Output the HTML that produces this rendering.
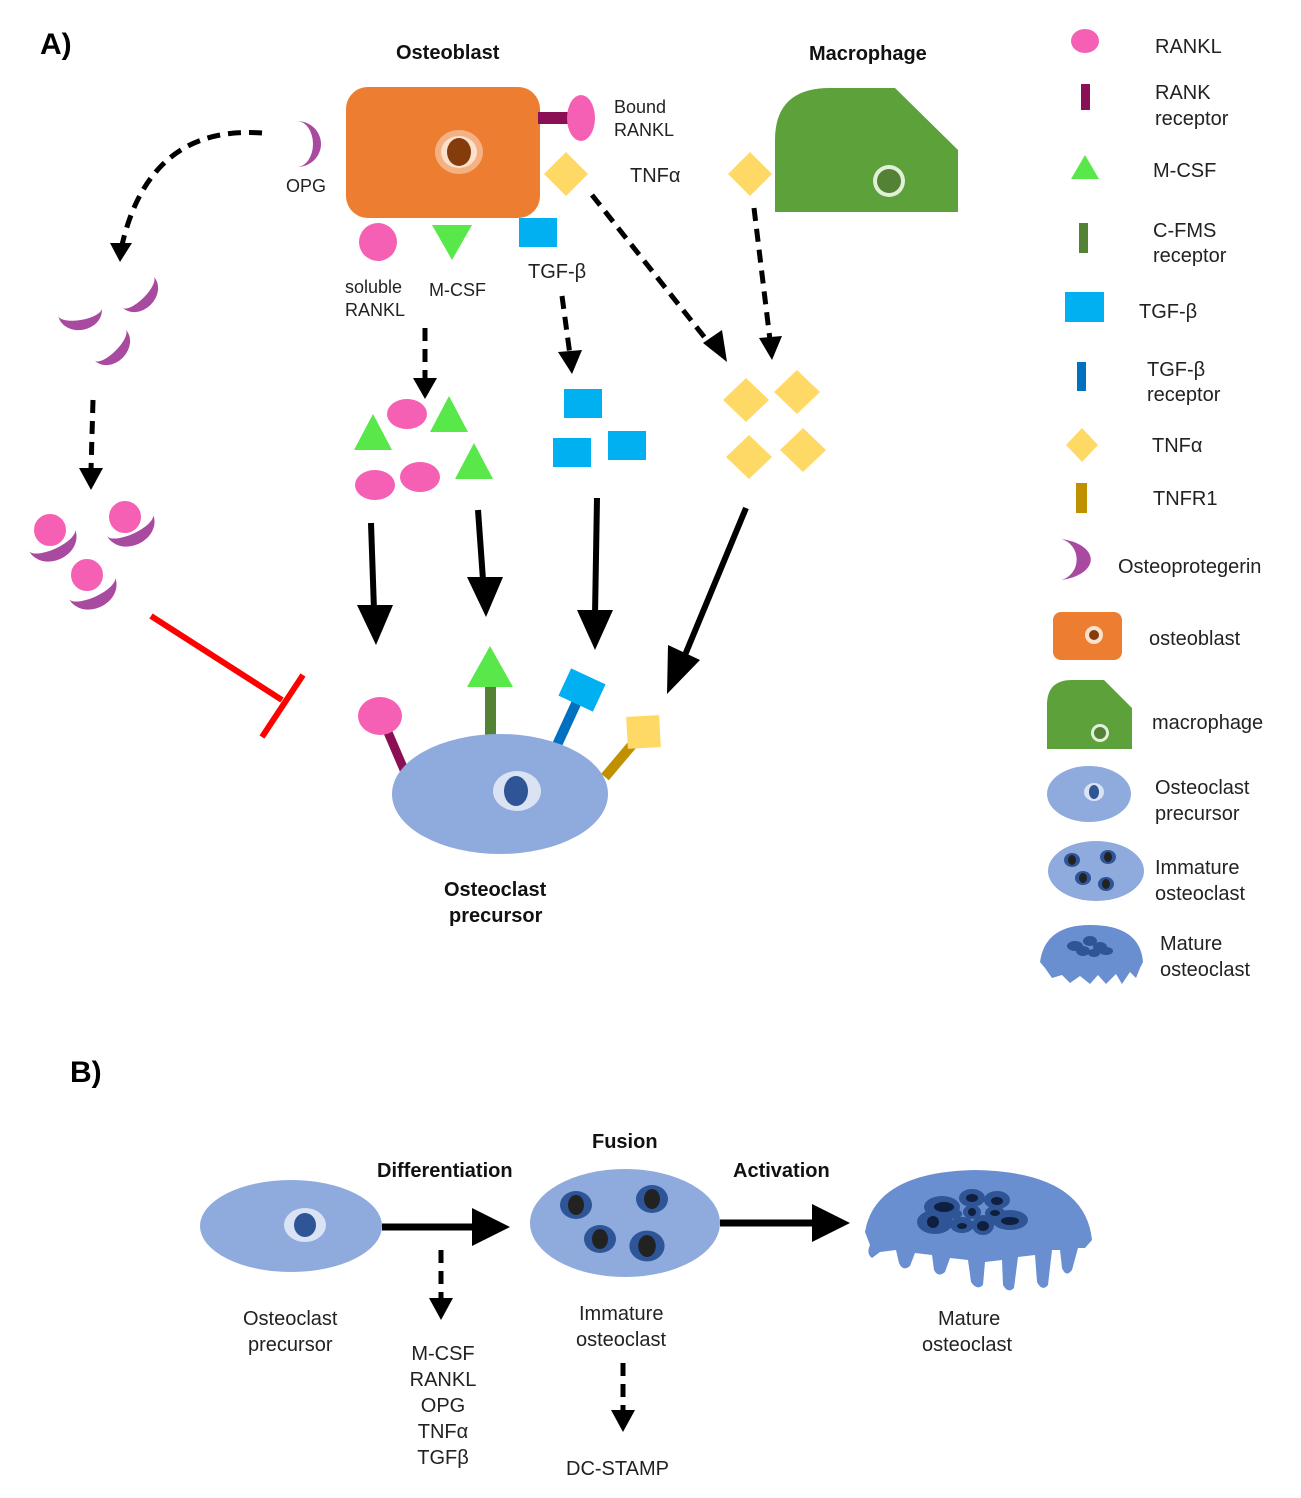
<!DOCTYPE html>
<html><head><meta charset="utf-8"><style>
html,body{margin:0;padding:0;background:#fff;}
svg{display:block;font-family:"Liberation Sans",sans-serif;}
.t{font-size:20px;fill:#222;}
.b{font-size:20px;font-weight:bold;fill:#111;}
.s{font-size:18px;fill:#222;}
</style></head><body>
<svg width="1301" height="1498" viewBox="0 0 1301 1498" xmlns="http://www.w3.org/2000/svg">
<defs>
<g id="mnuc"><ellipse cx="0" cy="0" rx="16" ry="14" fill="#2e5597"/><ellipse cx="0" cy="0" rx="8" ry="10" fill="#222"/></g>
<path id="bowl" d="M-22,0 A22,18 0 0 0 22,0 A22,8 0 0 1 -22,0Z" fill="#a84aa0"/>
</defs>

<text x="40" y="54" style="font-size:30px;font-weight:bold">A)</text>
<text x="70" y="1082" style="font-size:30px;font-weight:bold">B)</text>

<!-- Osteoblast -->
<text x="396" y="59" class="b">Osteoblast</text>
<rect x="346" y="87" width="194" height="131" rx="22" fill="#ed7d31"/>
<ellipse cx="459" cy="152" rx="24" ry="22" fill="#f4b183"/>
<ellipse cx="459" cy="152" rx="18" ry="16" fill="#fbe0cc"/>
<ellipse cx="459" cy="152" rx="12" ry="14" fill="#843c0c"/>
<rect x="538" y="112" width="30" height="12" fill="#8b0f55"/>
<ellipse cx="581" cy="118" rx="14" ry="23" fill="#f560b5"/>
<text x="614" y="113" class="s">Bound</text>
<text x="614" y="136" class="s">RANKL</text>
<path d="M566,152 L588,174 L566,196 L544,174Z" fill="#ffd966"/>
<text x="630" y="182" class="t">TNFα</text>
<path d="M297,121 A24,23 0 0 1 297,167 A16,23 0 0 0 297,121Z" fill="#a84aa0"/>
<text x="286" y="192" class="s">OPG</text>
<ellipse cx="378" cy="242" rx="19" ry="19" fill="#f560b5"/>
<path d="M432,225 L472,225 L452,260Z" fill="#58e84a"/>
<rect x="519" y="218" width="38" height="29" fill="#00b0f0"/>
<text x="345" y="293" class="s">soluble</text>
<text x="345" y="316" class="s">RANKL</text>
<text x="429" y="296" class="s">M-CSF</text>
<text x="528" y="278" class="t">TGF-β</text>

<!-- Macrophage -->
<text x="809" y="60" class="b">Macrophage</text>
<path d="M775,212 L775,140 Q775,88 830,88 L895,88 L958,150 L958,212Z" fill="#5ca13a"/>
<circle cx="889" cy="181" r="16" fill="#e2f0d9"/>
<circle cx="889" cy="181" r="12" fill="#548235"/>
<path d="M750,152 L772,174 L750,196 L728,174Z" fill="#ffd966"/>

<!-- dashed arrows -->
<g stroke="#000" stroke-width="5" fill="none" stroke-dasharray="13,8">
<path d="M262,133 Q150,125 122,245"/>
<path d="M93,400 L91,470"/>
<path d="M425,328 L425,380"/>
<path d="M562,296 L570,355"/>
<path d="M592,195 L713,348"/>
<path d="M754,208 L770,340"/>
<path d="M441,1250 L441,1300"/>
<path d="M623,1363 L623,1410"/>
</g>
<g fill="#000">
<path d="M110,243 L132,243 L120,262Z"/>
<path d="M79,468 L103,468 L91,490Z"/>
<path d="M413,378 L437,378 L425,399Z"/>
<path d="M558,352 L582,350 L572,374Z"/>
<path d="M703,343 L722,330 L727,362Z"/>
<path d="M759,338 L782,336 L772,360Z"/>
<path d="M429,1298 L453,1298 L441,1320Z"/>
<path d="M611,1410 L635,1410 L623,1432Z"/>
</g>

<!-- OPG crescents -->
<use href="#bowl" transform="translate(80,312) rotate(-10)"/>
<use href="#bowl" transform="translate(138,292) rotate(-45)"/>
<use href="#bowl" transform="translate(110,345) rotate(-45)"/>
<!-- bound -->
<use href="#bowl" transform="translate(52,540) rotate(-25) scale(1.15)"/>
<circle cx="50" cy="530" r="17" fill="#f560b5" stroke="#fff" stroke-width="2"/>
<use href="#bowl" transform="translate(130,525) rotate(-25) scale(1.15)"/>
<circle cx="125" cy="517" r="17" fill="#f560b5" stroke="#fff" stroke-width="2"/>
<use href="#bowl" transform="translate(92,588) rotate(-25) scale(1.15)"/>
<circle cx="87" cy="575" r="17" fill="#f560b5" stroke="#fff" stroke-width="2"/>

<!-- clusters -->
<g fill="#f560b5">
<ellipse cx="407" cy="414" rx="20" ry="15"/>
<ellipse cx="375" cy="485" rx="20" ry="15"/>
<ellipse cx="420" cy="477" rx="20" ry="15"/>
</g>
<g fill="#58e84a">
<path d="M354,450 L392,450 L373,414Z"/>
<path d="M430,432 L468,432 L449,396Z"/>
<path d="M455,479 L493,479 L474,443Z"/>
</g>
<g fill="#00b0f0">
<rect x="564" y="389" width="38" height="29"/>
<rect x="553" y="438" width="38" height="29"/>
<rect x="608" y="431" width="38" height="29"/>
</g>
<g fill="#ffd966">
<path d="M746,378 L769,400 L746,422 L723,400Z"/>
<path d="M797,370 L820,392 L797,414 L774,392Z"/>
<path d="M749,435 L772,457 L749,479 L726,457Z"/>
<path d="M803,428 L826,450 L803,472 L780,450Z"/>
</g>

<!-- solid arrows -->
<g stroke="#000" stroke-width="6">
<line x1="371" y1="523" x2="374" y2="610"/>
<line x1="478" y1="510" x2="483" y2="580"/>
<line x1="597" y1="498" x2="595" y2="615"/>
<line x1="746" y1="508" x2="685" y2="655"/>
</g>
<g fill="#000">
<path d="M357,605 L393,605 L376,645Z"/>
<path d="M467,577 L503,577 L486,617Z"/>
<path d="M577,610 L613,610 L595,650Z"/>
<path d="M668,645 L700,660 L667,694Z"/>
</g>
<line x1="151" y1="616" x2="282" y2="700" stroke="#f00" stroke-width="6"/>
<line x1="262" y1="737" x2="303" y2="675" stroke="#f00" stroke-width="6"/>

<!-- Osteoclast precursor A -->
<line x1="387" y1="730" x2="405" y2="772" stroke="#8b0f55" stroke-width="9"/>
<ellipse cx="380" cy="716" rx="22" ry="19" fill="#f560b5"/>
<rect x="485" y="685" width="11" height="52" fill="#548235"/>
<path d="M467,687 L513,687 L490,646Z" fill="#58e84a"/>
<line x1="557" y1="745" x2="580" y2="695" stroke="#0070c0" stroke-width="10"/>
<rect x="563" y="675" width="38" height="30" fill="#00b0f0" transform="rotate(25 582 690)"/>
<line x1="605" y1="777" x2="632" y2="745" stroke="#bf9000" stroke-width="10"/>
<rect x="627" y="716" width="33" height="32" fill="#ffd966" transform="rotate(-3 643 732)"/>
<ellipse cx="500" cy="794" rx="108" ry="60" fill="#8faadc"/>
<ellipse cx="517" cy="791" rx="24" ry="20" fill="#dae3f3"/>
<ellipse cx="516" cy="791" rx="12" ry="15" fill="#2f5597"/>
<text x="444" y="896" class="b">Osteoclast</text>
<text x="449" y="922" class="b">precursor</text>

<!-- Legend -->
<ellipse cx="1085" cy="41" rx="14" ry="12" fill="#f560b5"/><text x="1155" y="53" class="t">RANKL</text>
<rect x="1081" y="84" width="9" height="26" fill="#8b0f55"/><text x="1155" y="99" class="t">RANK</text><text x="1155" y="125" class="t">receptor</text>
<path d="M1071,179 L1099,179 L1085,155Z" fill="#58e84a"/><text x="1153" y="177" class="t">M-CSF</text>
<rect x="1079" y="223" width="9" height="30" fill="#548235"/><text x="1153" y="237" class="t">C-FMS</text><text x="1153" y="262" class="t">receptor</text>
<rect x="1065" y="292" width="39" height="30" fill="#00b0f0"/><text x="1139" y="318" class="t">TGF-β</text>
<rect x="1077" y="362" width="9" height="29" fill="#0070c0"/><text x="1147" y="376" class="t">TGF-β</text><text x="1147" y="401" class="t">receptor</text>
<path d="M1082,428 L1098,445 L1082,462 L1066,445Z" fill="#ffd966"/><text x="1152" y="452" class="t">TNFα</text>
<rect x="1076" y="483" width="11" height="30" fill="#bf9000"/><text x="1153" y="505" class="t">TNFR1</text>
<path d="M1061,539 A38,21 0 0 1 1061,580 A20,21 0 0 0 1061,539Z" fill="#a84aa0"/><text x="1118" y="573" class="t">Osteoprotegerin</text>
<rect x="1053" y="612" width="69" height="48" rx="8" fill="#ed7d31"/><circle cx="1094" cy="635" r="9" fill="#fbe0cc"/><circle cx="1094" cy="635" r="5" fill="#843c0c"/><text x="1149" y="645" class="t">osteoblast</text>
<path d="M1047,749 L1047,705 Q1047,680 1072,680 L1104,680 L1132,708 L1132,749Z" fill="#5ca13a"/><circle cx="1100" cy="733" r="9" fill="#e2f0d9"/><circle cx="1100" cy="733" r="6" fill="#548235"/><text x="1152" y="729" class="t">macrophage</text>
<ellipse cx="1089" cy="794" rx="42" ry="28" fill="#8faadc"/><ellipse cx="1094" cy="792" rx="10" ry="9" fill="#dae3f3"/><ellipse cx="1094" cy="792" rx="5" ry="7" fill="#2f5597"/><text x="1155" y="794" class="t">Osteoclast</text><text x="1155" y="820" class="t">precursor</text>
<ellipse cx="1096" cy="871" rx="48" ry="30" fill="#8faadc"/>
<g transform="translate(1072,860) scale(0.5)"><use href="#mnuc"/></g>
<g transform="translate(1108,857) scale(0.5)"><use href="#mnuc"/></g>
<g transform="translate(1083,878) scale(0.5)"><use href="#mnuc"/></g>
<g transform="translate(1106,884) scale(0.5)"><use href="#mnuc"/></g>
<text x="1155" y="874" class="t">Immature</text><text x="1155" y="900" class="t">osteoclast</text>
<path d="M1040,962 Q1045,925 1090,925 Q1140,925 1143,962 L1140,968 L1136,978 L1130,972 L1122,984 L1116,974 L1106,984 L1098,975 L1090,984 L1080,976 L1070,983 L1062,975 L1052,978 L1045,968Z" fill="#6a8fd0"/>
<g fill="#2f5597"><ellipse cx="1075" cy="946" rx="8" ry="5"/><ellipse cx="1090" cy="941" rx="7" ry="5"/><ellipse cx="1100" cy="947" rx="7" ry="5"/><ellipse cx="1083" cy="951" rx="7" ry="5"/><ellipse cx="1094" cy="953" rx="6" ry="4"/><ellipse cx="1106" cy="951" rx="7" ry="4"/></g>
<text x="1160" y="950" class="t">Mature</text><text x="1160" y="976" class="t">osteoclast</text>

<!-- Part B -->
<ellipse cx="291" cy="1226" rx="91" ry="46" fill="#8faadc"/>
<ellipse cx="305" cy="1225" rx="21" ry="17" fill="#dae3f3"/>
<ellipse cx="305" cy="1225" rx="11" ry="12" fill="#2f5597"/>
<text x="243" y="1325" class="t">Osteoclast</text><text x="248" y="1351" class="t">precursor</text>
<text x="377" y="1177" class="b">Differentiation</text>
<line x1="382" y1="1227" x2="475" y2="1227" stroke="#000" stroke-width="7"/>
<path d="M472,1208 L510,1227 L472,1246Z" fill="#000"/>
<g class="t" text-anchor="middle"><text x="443" y="1360">M-CSF</text><text x="443" y="1386">RANKL</text><text x="443" y="1412">OPG</text><text x="443" y="1438">TNFα</text><text x="443" y="1464">TGFβ</text></g>

<text x="592" y="1148" class="b">Fusion</text>
<ellipse cx="625" cy="1223" rx="95" ry="54" fill="#8faadc"/>
<g transform="translate(576,1205)"><use href="#mnuc"/></g>
<g transform="translate(652,1199)"><use href="#mnuc"/></g>
<g transform="translate(600,1239)"><use href="#mnuc"/></g>
<g transform="translate(647,1246) scale(1.1)"><use href="#mnuc"/></g>
<text x="579" y="1320" class="t">Immature</text><text x="576" y="1346" class="t">osteoclast</text>
<text x="566" y="1475" class="t">DC-STAMP</text>

<text x="733" y="1177" class="b">Activation</text>
<line x1="720" y1="1223" x2="815" y2="1223" stroke="#000" stroke-width="7"/>
<path d="M812,1204 L850,1223 L812,1242Z" fill="#000"/>

<path d="M865,1232 Q875,1172 975,1170 Q1085,1172 1092,1240 L1085,1248 L1078,1248 L1072,1270 Q1066,1278 1062,1268 L1060,1250 L1052,1250 L1048,1285 Q1042,1292 1037,1282 L1035,1255 L1018,1257 L1014,1288 Q1008,1294 1003,1285 L1002,1260 L985,1262 L983,1285 Q977,1291 971,1282 L968,1260 L950,1258 L945,1272 Q938,1278 934,1270 L932,1255 L915,1253 L910,1266 Q903,1272 899,1263 L896,1250 L880,1252 L872,1258 Q866,1254 870,1245Z" fill="#6a8fd0"/>
<g fill="#2f5597"><ellipse cx="942" cy="1207" rx="18" ry="11"/><ellipse cx="972" cy="1198" rx="13" ry="9"/><ellipse cx="997" cy="1200" rx="13" ry="9"/><ellipse cx="935" cy="1222" rx="18" ry="12"/><ellipse cx="962" cy="1225" rx="12" ry="8"/><ellipse cx="983" cy="1225" rx="11" ry="10"/><ellipse cx="1010" cy="1220" rx="18" ry="10"/><ellipse cx="972" cy="1212" rx="9" ry="7"/><ellipse cx="995" cy="1213" rx="10" ry="7"/><ellipse cx="955" cy="1214" rx="7" ry="5"/></g>
<g fill="#0f1f3f"><ellipse cx="944" cy="1207" rx="10" ry="5"/><ellipse cx="972" cy="1198" rx="6" ry="4"/><ellipse cx="997" cy="1201" rx="6" ry="4"/><ellipse cx="933" cy="1222" rx="6" ry="6"/><ellipse cx="962" cy="1226" rx="5" ry="3"/><ellipse cx="983" cy="1226" rx="6" ry="5"/><ellipse cx="1010" cy="1221" rx="9" ry="4"/><ellipse cx="972" cy="1212" rx="4" ry="4"/><ellipse cx="995" cy="1213" rx="5" ry="3"/></g>
<text x="938" y="1325" class="t">Mature</text><text x="922" y="1351" class="t">osteoclast</text>
</svg>
</body></html>
